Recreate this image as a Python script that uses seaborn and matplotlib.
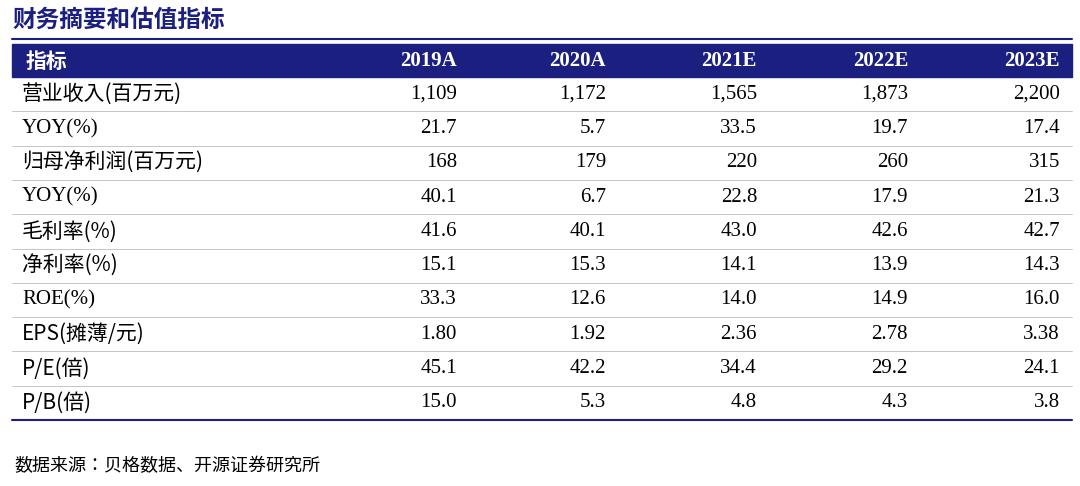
import matplotlib.pyplot as plt
from matplotlib import font_manager
import seaborn as sns

sns.set_style("white")

# find whatever name the CJK font is registered under
cjk_names = sorted({f.name for f in font_manager.fontManager.ttflist if "CJK" in f.name})
cjk = next((n for n in cjk_names if "SC" in n), cjk_names[0] if cjk_names else "DejaVu Sans")
plt.rcParams["font.family"] = ["Liberation Serif", cjk]

title = "财务摘要和估值指标"
source = "数据来源：贝格数据、开源证券研究所"
columns = ["2019A", "2020A", "2021E", "2022E", "2023E"]
row_labels = ["营业收入(百万元)", "YOY(%)", "归母净利润(百万元)", "YOY(%)", "毛利率(%)",
              "净利率(%)", "ROE(%)", "EPS(摊薄/元)", "P/E(倍)", "P/B(倍)"]
values = [
    ["1,109", "1,172", "1,565", "1,873", "2,200"],
    ["21.7", "5.7", "33.5", "19.7", "17.4"],
    ["168", "179", "220", "260", "315"],
    ["40.1", "6.7", "22.8", "17.9", "21.3"],
    ["41.6", "40.1", "43.0", "42.6", "42.7"],
    ["15.1", "15.3", "14.1", "13.9", "14.3"],
    ["33.3", "12.6", "14.0", "14.9", "16.0"],
    ["1.80", "1.92", "2.36", "2.78", "3.38"],
    ["45.1", "42.2", "34.4", "29.2", "24.1"],
    ["15.0", "5.3", "4.8", "4.3", "3.8"],
]

navy = "#1a1f80"
col_right = [457, 606, 757, 908, 1060]


def has_cjk(s):
    return any(ord(ch) > 0x2e80 for ch in s)


def label_font(s):
    return [cjk, "Liberation Serif"] if has_cjk(s) else ["Liberation Serif", cjk]


fig = plt.figure(figsize=(10.8, 4.86), dpi=100)
ax = fig.add_axes([0, 0, 1, 1])
ax.set_xlim(0, 1080)
ax.set_ylim(486, 0)
ax.axis("off")

ax.text(12, 20, title, fontsize=17, fontweight="bold", color=navy, va="center", family=cjk)
ax.plot([12, 1072], [39, 39], color=navy, lw=1.5)
ax.add_patch(plt.Rectangle((12, 44), 1060, 33, color=navy))
ax.text(26, 61, "指标", fontsize=15, fontweight="bold", color="white", va="center", family=cjk)
for x, c in zip(col_right, columns):
    ax.text(x, 61, c, fontsize=15, fontweight="bold", color="white", va="center", ha="right")

row_h = 34.3
y0 = 77
for i, (lab, vals) in enumerate(zip(row_labels, values)):
    yc = y0 + row_h * (i + 0.5)
    ax.text(22, yc, lab, fontsize=15, va="center", color="black", family=label_font(lab))
    for x, v in zip(col_right, vals):
        ax.text(x, yc, v, fontsize=15, va="center", ha="right", color="black")
    yb = y0 + row_h * (i + 1)
    if i < len(row_labels) - 1:
        ax.plot([12, 1072], [yb, yb], color="#bbbbbb", lw=0.6)
    else:
        ax.plot([12, 1072], [yb, yb], color=navy, lw=1.5)

ax.text(14, 466, source, fontsize=13, va="center", color="black", family=cjk)

fig.savefig("out.png", dpi=100)
